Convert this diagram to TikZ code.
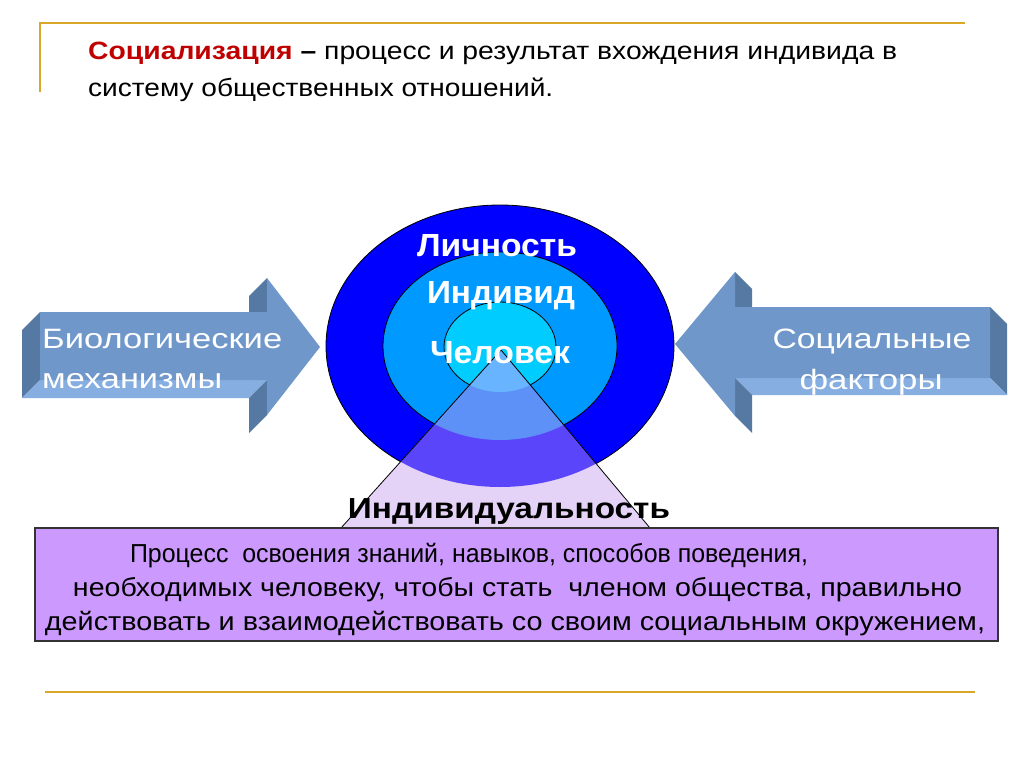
\documentclass[tikz,border=0pt]{standalone}
\usepackage{fontspec}
\setmainfont{Liberation Sans}
\usepackage{graphicx}
\definecolor{gold}{RGB}{218,168,40}
\definecolor{titlered}{RGB}{192,0,0}
\definecolor{outerblue}{RGB}{0,0,255}
\definecolor{midblue}{RGB}{0,153,255}
\definecolor{innerblue}{RGB}{0,204,255}
\definecolor{triout}{RGB}{228,210,247}
\definecolor{trione}{RGB}{91,69,250}
\definecolor{tritwo}{RGB}{94,145,248}
\definecolor{trithree}{RGB}{104,180,255}
\definecolor{arrfront}{RGB}{112,151,201}
\definecolor{arrdark}{RGB}{86,121,163}
\definecolor{arrlight}{RGB}{134,174,224}
\definecolor{boxfill}{RGB}{204,153,255}
\newcommand{\fitw}[2]{\resizebox{#1pt}{\height}{#2}}
\tikzset{
  lbl/.style={anchor=base, inner sep=0pt, font=\fontsize{32}{38}\selectfont\bfseries, text=white},
  arrtext/.style={anchor=base west, inner sep=0pt, font=\fontsize{28}{34}\selectfont, text=white},
  arrtextc/.style={anchor=base, inner sep=0pt, font=\fontsize{28}{34}\selectfont, text=white},
  deftext/.style={anchor=base, inner sep=0pt, font=\fontsize{26}{34}\selectfont, text=black},
  titletext/.style={anchor=base west, inner sep=0pt, font=\fontsize{25}{34}\selectfont, text=black},
  goldline/.style={draw=gold, line width=2.5pt},
  ell/.style={draw=black, line width=0.8pt},
}
\begin{document}
\begin{tikzpicture}[x=1pt,y=-1pt]
\useasboundingbox (0,0) rectangle (1024,767);
\fill[white] (0,0) rectangle (1024,767);

% golden frame lines
\draw[goldline] (40,23) -- (965,23);
\draw[goldline] (40,22) -- (40,92);
\draw[goldline] (45,692) -- (975,692);

% title
\node[titletext] (t1) at (88,60) {\fitw{809}{\textcolor{titlered}{\bfseries Социализация} \textbf{–} процесс и результат вхождения индивида в}};
\node[titletext] (t2) at (88,97) {\fitw{465}{систему общественных отношений.}};

% left arrow (3D)
\fill[arrdark] (40,312) -- (40,380) -- (22,398) -- (22,330) -- cycle;
\fill[arrlight] (40,380) -- (267,380) -- (249,398) -- (22,398) -- cycle;
\fill[arrdark] (267,278) -- (267,312) -- (249,330) -- (249,296) -- cycle;
\fill[arrdark] (267,380) -- (267,415) -- (249,433) -- (249,398) -- cycle;
\fill[arrfront] (40,312) -- (267,312) -- (267,278) -- (320,347) -- (267,415) -- (267,380) -- (40,380) -- cycle;
\node[arrtext] (bio1) at (42,348) {\fitw{240}{Биологические}};
\node[arrtext] (bio2) at (42,388) {\fitw{180}{механизмы}};

% right arrow (3D)
\fill[arrdark] (990,307) -- (1007,324) -- (1007,395) -- (990,378) -- cycle;
\fill[arrlight] (735,378) -- (990,378) -- (1007,395) -- (752,395) -- cycle;
\fill[arrdark] (735,272) -- (752,289) -- (752,324) -- (735,307) -- cycle;
\fill[arrdark] (735,378) -- (752,395) -- (752,433) -- (735,416) -- cycle;
\fill[arrfront] (990,307) -- (735,307) -- (735,272) -- (675,344) -- (735,416) -- (735,378) -- (990,378) -- cycle;
\node[arrtextc] (soc1) at (872,348) {\fitw{199}{Социальные}};
\node[arrtextc] (soc2) at (871,389) {\fitw{143}{факторы}};

% ellipses
\draw[ell, fill=outerblue] (500,346) ellipse [x radius=174, y radius=141];
\draw[ell, fill=midblue] (500,346) ellipse [x radius=117, y radius=94];
\draw[ell, fill=innerblue] (500,347) ellipse [x radius=56, y radius=45];

% triangle overlay
\coordinate (apex) at (501,350);
\coordinate (bl) at (341,528);
\coordinate (br) at (650,528);
\begin{scope}
  \clip (apex) -- (br) -- (bl) -- cycle;
  \fill[triout] (300,340) rectangle (700,530);
  \fill[trione] (500,346) ellipse [x radius=174, y radius=141];
  \fill[tritwo] (500,346) ellipse [x radius=117, y radius=94];
  \fill[trithree] (500,347) ellipse [x radius=56, y radius=45];
\end{scope}
\draw[black, line width=0.8pt] (apex) -- (bl);
\draw[black, line width=0.8pt] (apex) -- (br);

% ellipse labels
\node[lbl] (lich) at (497,256) {\fitw{160}{Личность}};
\node[lbl] (ind) at (501,303) {\fitw{148}{Индивид}};
\node[lbl] (chel) at (500,363) {\fitw{140}{Человек}};

% definition box
\node[draw=black!80, line width=1.2pt, fill=boxfill, minimum width=963pt, minimum height=113pt, inner sep=0pt] (box) at (516.5,584.5) {};
\node[anchor=base, inner sep=0pt, font=\fontsize{29}{34}\selectfont\bfseries] (indiv) at (509,518) {\fitw{322}{Индивидуальность}};
\node[deftext] (d1) at (469,562) {\fitw{678}{Процесс\ \ освоения знаний, навыков, способов поведения,}};
\node[deftext] (d2) at (517.5,596) {\fitw{889}{необходимых человеку, чтобы стать\ \ членом общества, правильно}};
\node[deftext] (d3) at (515,630) {\fitw{940}{действовать и взаимодействовать со своим социальным окружением,}};
\end{tikzpicture}
\end{document}
